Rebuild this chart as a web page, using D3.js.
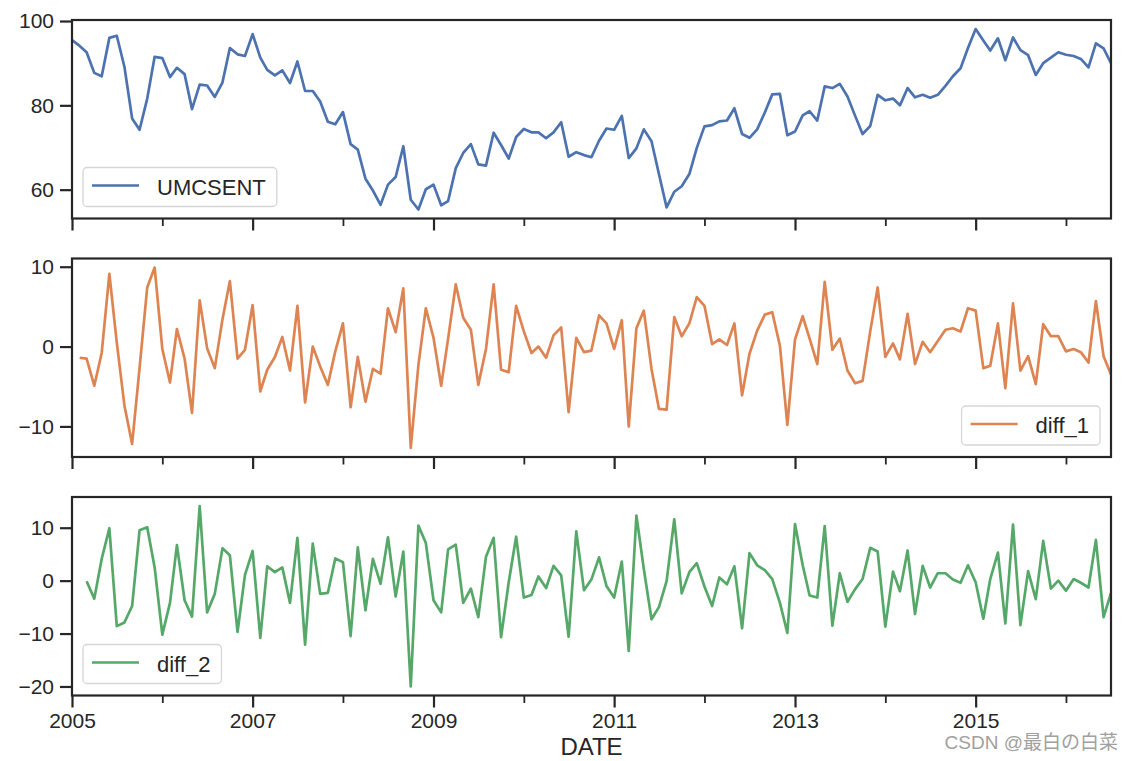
<!DOCTYPE html>
<html>
<head>
<meta charset="utf-8">
<script src="https://cdn.jsdelivr.net/npm/d3@7"></script>
<style>
  html, body { margin: 0; padding: 0; background: #ffffff; }
  svg { display: block; }
  text { font-family: "Liberation Sans", Arial, sans-serif; fill: #262626; }
</style>
</head>
<body>
<svg id="chart" width="1134" height="761"></svg>
<script>
// ---------------- DATA ----------------
const startMonth = "2005-01";   // first observation (monthly series)
const seriesNames = ["UMCSENT", "diff_1", "diff_2"];
const seriesColors = ["#4C72B0", "#DD8452", "#55A868"];

// University of Michigan consumer sentiment, Jan 2005 .. Jul 2016
const umcsent = [
  95.5, 94.1, 92.6, 87.7, 86.9, 96.0, 96.5, 89.1, 76.9, 74.2, 81.6, 91.5,
  91.2, 86.7, 88.9, 87.4, 79.1, 84.9, 84.7, 82.0, 85.4, 93.6, 92.1, 91.7,
  96.9, 91.3, 88.4, 87.1, 88.3, 85.3, 90.4, 83.4, 83.4, 80.9, 76.1, 75.5,
  78.4, 70.8, 69.5, 62.6, 59.8, 56.4, 61.2, 63.0, 70.3, 57.6, 55.3, 60.1,
  61.2, 56.3, 57.3, 65.1, 68.7, 70.8, 66.0, 65.7, 73.5, 70.6, 67.4, 72.5,
  74.4, 73.6, 73.6, 72.2, 73.6, 76.0, 67.8, 68.9, 68.2, 67.7, 71.6, 74.5,
  74.2, 77.5, 67.5, 69.8, 74.3, 71.5, 63.7, 55.8, 59.5, 60.8, 63.7, 69.9,
  75.0, 75.3, 76.2, 76.4, 79.3, 73.2, 72.3, 74.3, 78.3, 82.6, 82.7, 72.9,
  73.8, 77.6, 78.6, 76.4, 84.5, 84.1, 85.1, 82.1, 77.5, 73.2, 75.1, 82.5,
  81.2, 81.6, 80.0, 84.1, 81.9, 82.5, 81.8, 82.5, 84.6, 86.9, 88.8, 93.6,
  98.1, 95.4, 93.0, 95.9, 90.7, 96.1, 93.1, 91.9, 87.2, 90.0, 91.3, 92.6,
  92.0, 91.7, 91.0, 89.0, 94.7, 93.5, 90.0
];

// diff_1 : first value is missing (Jan 2005)
const diff1 = [
  null, -1.4, -1.5, -4.9, -0.8, 9.1, 0.5, -7.4, -12.2, -2.7, 7.4, 9.9,
  -0.3, -4.5, 2.2, -1.5, -8.3, 5.8, -0.2, -2.7, 3.4, 8.2, -1.5, -0.4,
  5.2, -5.6, -2.9, -1.3, 1.2, -3.0, 5.1, -7.0, 0.0, -2.5, -4.8, -0.6,
  2.9, -7.6, -1.3, -6.9, -2.8, -3.4, 4.8, 1.8, 7.3, -12.7, -2.3, 4.8,
  1.1, -4.9, 1.0, 7.8, 3.6, 2.1, -4.8, -0.3, 7.8, -2.9, -3.2, 5.1,
  1.9, -0.8, 0.0, -1.4, 1.4, 2.4, -8.2, 1.1, -0.7, -0.5, 3.9, 2.9,
  -0.3, 3.3, -10.0, 2.3, 4.5, -2.8, -7.8, -7.9, 3.7, 1.3, 2.9, 6.2,
  5.1, 0.3, 0.9, 0.2, 2.9, -6.1, -0.9, 2.0, 4.0, 4.3, 0.1, -9.8,
  0.9, 3.8, 1.0, -2.2, 8.1, -0.4, 1.0, -3.0, -4.6, -4.3, 1.9, 7.4,
  -1.3, 0.4, -1.6, 4.1, -2.2, 0.6, -0.7, 0.7, 2.1, 2.3, 1.9, 4.8,
  4.5, -2.7, -2.4, 2.9, -5.2, 5.4, -3.0, -1.2, -4.7, 2.8, 1.3, 1.3,
  -0.6, -0.3, -0.7, -2.0, 5.7, -1.2, -3.5
];

// diff_2 : first two values are missing (Jan, Feb 2005)
const diff2 = [
  null, null, -0.1, -3.4, 4.1, 9.9, -8.6, -7.9, -4.8, 9.5, 10.1, 2.5,
  -10.2, -4.2, 6.7, -3.7, -6.8, 14.1, -6.0, -2.5, 6.1, 4.8, -9.7, 1.1,
  5.6, -10.8, 2.7, 1.6, 2.5, -4.2, 8.1, -12.1, 7.0, -2.5, -2.3, 4.2,
  3.5, -10.5, 6.3, -5.6, 4.1, -0.6, 8.2, -3.0, 5.5, -20.0, 10.4, 7.1,
  -3.7, -6.0, 5.9, 6.8, -4.2, -1.5, -6.9, 4.5, 8.1, -10.7, -0.3, 8.3,
  -3.2, -2.7, 0.8, -1.4, 2.8, 1.0, -10.6, 9.3, -1.8, 0.2, 4.4, -1.0,
  -3.2, 3.6, -13.3, 12.3, 2.2, -7.3, -5.0, -0.1, 11.6, -2.4, 1.6, 3.3,
  -1.1, -4.8, 0.6, -0.7, 2.7, -9.0, 5.2, 2.9, 2.0, 0.3, -4.2, -9.9,
  10.7, 2.9, -2.8, -3.2, 10.3, -8.5, 1.4, -4.0, -1.6, 0.3, 6.2, 5.5,
  -8.7, 1.7, -2.0, 5.7, -6.3, 2.8, -1.3, 1.4, 1.4, 0.2, -0.4, 2.9,
  -0.3, -7.2, 0.3, 5.3, -8.1, 10.6, -8.4, 1.8, -3.5, 7.5, -1.5, 0.0,
  -1.9, 0.3, -0.4, -1.3, 7.7, -6.9, -2.3
];

const yTicks = [[60, 80, 100], [-10, 0, 10], [-20, -10, 0, 10]];
const xMajorYears = [2005, 2007, 2009, 2011, 2013, 2015];
const xMinorYears = [2006, 2008, 2010, 2012, 2014, 2016];
const legendCorner = ["lower left", "lower right", "lower left"];
const xLabel = "DATE";
const watermark = "CSDN @最白の白菜";

// ---------------- LAYOUT ----------------
const W = 1134, H = 761;
const left = 72, right = 1111;
const panelTops = [20, 258.5, 497];
const panelH = 198.5;
const ink = "#262626";

const svg = d3.select("#chart");

const t0 = d3.utcParse("%Y-%m")(startMonth);
const dates = umcsent.map((_, i) => d3.utcMonth.offset(t0, i));

const x = d3.scaleUtc()
  .domain([dates[0], dates[dates.length - 1]])
  .range([left, right]);

const allSeries = [umcsent, diff1, diff2];

allSeries.forEach((vals, p) => {
  const top = panelTops[p], bottom = top + panelH;
  const defined = vals.filter(v => v != null);
  const [mn, mx] = d3.extent(defined);
  const pad = (mx - mn) * 0.05;
  const y = d3.scaleLinear().domain([mn - pad, mx + pad]).range([bottom, top]);

  const g = svg.append("g");

  // clip
  const clipId = "clip" + p;
  svg.append("clipPath").attr("id", clipId)
    .append("rect").attr("x", left).attr("y", top)
    .attr("width", right - left).attr("height", panelH);

  // line
  const line = d3.line()
    .defined(d => d.v != null)
    .x(d => x(d.t))
    .y(d => y(d.v));
  const pts = vals.map((v, i) => ({ t: dates[i], v: v }));
  g.append("path")
    .datum(pts)
    .attr("clip-path", `url(#${clipId})`)
    .attr("fill", "none")
    .attr("stroke", seriesColors[p])
    .attr("stroke-width", 2.7)
    .attr("stroke-linejoin", "round")
    .attr("stroke-linecap", "butt")
    .attr("d", line);

  // y axis
  const yAxis = d3.axisLeft(y).tickValues(yTicks[p]).tickSize(12).tickPadding(6)
    .tickFormat(d => d < 0 ? "\u2212" + Math.abs(d) : String(d));
  const ga = g.append("g").attr("transform", `translate(${left},0)`).call(yAxis);
  ga.select(".domain").remove();
  ga.selectAll("line").attr("stroke", ink).attr("stroke-width", 2.2);
  ga.selectAll("text").attr("font-size", 21).attr("fill", ink)
    .attr("font-family", "'Liberation Sans', Arial, sans-serif");

  // x axis major
  const majorDates = xMajorYears.map(yy => new Date(Date.UTC(yy, 0, 1)));
  const minorDates = xMinorYears.map(yy => new Date(Date.UTC(yy, 0, 1)));
  const xAxis = d3.axisBottom(x).tickValues(majorDates).tickSize(12).tickPadding(6)
    .tickFormat(p === 2 ? d3.utcFormat("%Y") : () => "");
  const gx = g.append("g").attr("transform", `translate(0,${bottom})`).call(xAxis);
  gx.select(".domain").remove();
  gx.selectAll("line").attr("stroke", ink).attr("stroke-width", 2.2);
  gx.selectAll("text").attr("font-size", 21).attr("fill", ink)
    .attr("font-family", "'Liberation Sans', Arial, sans-serif");

  const xMinor = d3.axisBottom(x).tickValues(minorDates).tickSize(7.5).tickFormat(() => "");
  const gm = g.append("g").attr("transform", `translate(0,${bottom})`).call(xMinor);
  gm.select(".domain").remove();
  gm.selectAll("line").attr("stroke", ink).attr("stroke-width", 1.8);

  // spines
  g.append("rect")
    .attr("x", left).attr("y", top)
    .attr("width", right - left).attr("height", panelH)
    .attr("fill", "none").attr("stroke", ink).attr("stroke-width", 2.2);

  // legend
  const lg = g.append("g");
  const boxH = 39;
  const tmp = lg.append("text").attr("font-size", 22).text(seriesNames[p]);
  const tw = tmp.node().getComputedTextLength();
  tmp.remove();
  const boxW = 74 + tw + 11;
  const bx = legendCorner[p] === "lower left" ? left + 11 : right - 11 - boxW;
  const by = bottom - 12 - boxH;
  lg.append("rect")
    .attr("x", bx).attr("y", by).attr("width", boxW).attr("height", boxH)
    .attr("rx", 4).attr("ry", 4)
    .attr("fill", "#ffffff").attr("fill-opacity", 0.8)
    .attr("stroke", "#d6d6d6").attr("stroke-width", 1.3);
  lg.append("line")
    .attr("x1", bx + 9).attr("x2", bx + 56)
    .attr("y1", by + boxH / 2 - 1.5).attr("y2", by + boxH / 2 - 1.5)
    .attr("stroke", seriesColors[p]).attr("stroke-width", 2.7);
  lg.append("text")
    .attr("x", bx + 74).attr("y", by + boxH / 2 + 7.5)
    .attr("font-size", 22).attr("fill", ink)
    .text(seriesNames[p]);
});

// x axis label
svg.append("text")
  .attr("x", (left + right) / 2).attr("y", 755)
  .attr("text-anchor", "middle")
  .attr("font-size", 24).attr("fill", ink)
  .text(xLabel);

// watermark
svg.append("text")
  .attr("x", 1118).attr("y", 749)
  .attr("text-anchor", "end")
  .attr("font-size", 19)
  .style("font-family", "'Liberation Sans', 'Noto Sans CJK SC', sans-serif")
  .style("fill", "#a0a0a0")
  .text(watermark);
</script>
</body>
</html>
